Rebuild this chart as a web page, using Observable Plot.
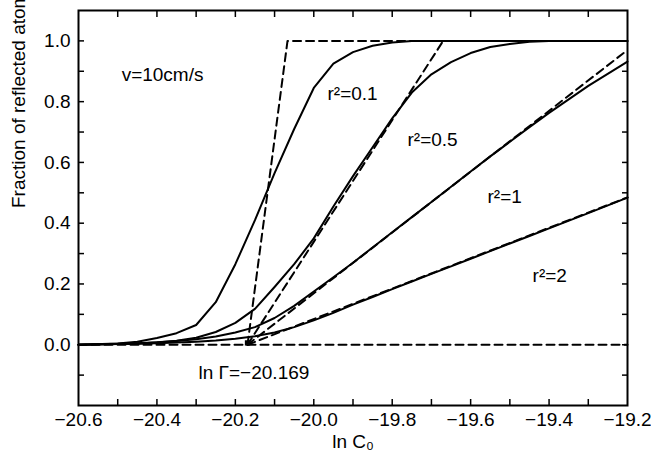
<!DOCTYPE html>
<html><head><meta charset="utf-8">
<script src="https://cdn.jsdelivr.net/npm/d3@7"></script>
<script src="https://cdn.jsdelivr.net/npm/@observablehq/plot@0.6"></script>
<style>
html,body{margin:0;padding:0;background:#fff;}
#chart svg{display:block;}
</style></head><body><div id="chart"></div>
<script>
// ln C0 sample positions
const lnC = [-20.6, -20.5, -20.45, -20.4, -20.35, -20.3, -20.25, -20.2, -20.15, -20.1, -20.05, -20.0,
  -19.95, -19.9, -19.85, -19.8, -19.75, -19.7, -19.65, -19.6, -19.55, -19.5, -19.45, -19.4, -19.3, -19.2];
// fraction of reflected atoms, solid curves
const frac01 = [0, 0.004, 0.01, 0.022, 0.038, 0.065, 0.14, 0.265, 0.41, 0.565, 0.71, 0.845,
  0.925, 0.963, 0.984, 0.995, 1.0, 1.0, 1.0, 1.0, 1.0, 1.0, 1.0, 1.0, 1.0, 1.0];
const frac05 = [0, 0.002, 0.004, 0.007, 0.013, 0.023, 0.042, 0.072, 0.118, 0.19, 0.265, 0.35,
  0.455, 0.555, 0.65, 0.745, 0.83, 0.89, 0.93, 0.96, 0.98, 0.99, 0.997, 1.0, 1.0, 1.0];
const frac1 = [0, 0.003, 0.005, 0.008, 0.012, 0.018, 0.027, 0.04, 0.058, 0.088, 0.128, 0.175,
  0.222, 0.27, 0.32, 0.37, 0.42, 0.47, 0.52, 0.57, 0.62, 0.668, 0.716, 0.763, 0.852, 0.932];
const frac2 = [0, 0.002, 0.003, 0.005, 0.007, 0.01, 0.014, 0.02, 0.028, 0.04, 0.058, 0.08,
  0.105, 0.132, 0.157, 0.183, 0.208, 0.233, 0.258, 0.283, 0.308, 0.333, 0.358, 0.383, 0.433, 0.484];
const seriesNames = ["0.1", "0.5", "1", "2"];

// dashed approximations (end points)
const lnGamma = -20.169;
const baseX = [-20.6, -19.2], baseY = [0, 0];
const approx01X = [-20.169, -20.067, -19.2], approx01Y = [0, 1, 1];
const approx05X = [-20.169, -19.67, -19.2], approx05Y = [0, 1, 1];
const approx1X = [-20.169, -19.2], approx1Y = [0, 0.97];
const approx2X = [-20.169, -19.2], approx2Y = [0, 0.485];

// annotations
const noteText = ["v=10cm/s", "r²=0.1", "r²=0.5", "r²=1", "r²=2", "ln Γ=−20.169"];
const noteX = [-20.49, -19.965, -19.761, -19.557, -19.442, -20.294];
const noteY = [0.888, 0.825, 0.673, 0.485, 0.228, -0.092];
const xTitle = "ln C₀";
const yTitle = "Fraction of reflected atoms";

// ticks
const xMajor = [-20.6, -20.4, -20.2, -20.0, -19.8, -19.6, -19.4, -19.2];
const xAll = [-20.5, -20.4, -20.3, -20.2, -20.1, -20.0, -19.9, -19.8, -19.7, -19.6, -19.5, -19.4, -19.3];
const yMajor = [0, 0.2, 0.4, 0.6, 0.8, 1.0];
const yAll = [-0.1, 0, 0.1, 0.2, 0.3, 0.4, 0.5, 0.6, 0.7, 0.8, 0.9, 1.0];

const solid = [];
[frac01, frac05, frac1, frac2].forEach((arr, k) => arr.forEach((v, i) => solid.push({x: lnC[i], y: v, r: seriesNames[k]})));
const dashed = [];
[[baseX, baseY, "base"], [approx01X, approx01Y, "0.1"], [approx05X, approx05Y, "0.5"], [approx1X, approx1Y, "1"], [approx2X, approx2Y, "2"]]
  .forEach(([xs, ys, r]) => xs.forEach((x, i) => dashed.push({x, y: ys[i], r})));
const notes = noteText.map((t, i) => ({t, x: noteX[i], y: noteY[i]}));
const fmt = d3.format(".1f");
const blank = () => "";
const tick = -6; // negative = inward

const chart = Plot.plot({
  width: 651,
  height: 460,
  marginLeft: 78,
  marginRight: 24,
  marginTop: 10,
  marginBottom: 55,
  style: {fontFamily: "'Liberation Sans', Arial, sans-serif", fontSize: "19px", background: "white", color: "black"},
  x: {domain: [-20.6, -19.2]},
  y: {domain: [-0.2, 1.1]},
  marks: [
    Plot.line(dashed, {x: "x", y: "y", z: "r", stroke: "black", strokeWidth: 2, strokeDasharray: "8,5"}),
    Plot.line(solid, {x: "x", y: "y", z: "r", stroke: "black", strokeWidth: 2}),
    Plot.dot([{x: lnGamma, y: 0.006}], {x: "x", y: "y", symbol: "square", r: 3, fill: "black"}),
    Plot.text(notes, {x: "x", y: "y", text: "t", textAnchor: "start", fill: "black"}),
    // tick-only axes (inward ticks on all four sides)
    Plot.axisX(xAll, {anchor: "bottom", tickSize: tick, stroke: "black", strokeWidth: 1.5, tickFormat: blank, label: null}),
    Plot.axisX(xAll, {anchor: "top", tickSize: tick, stroke: "black", strokeWidth: 1.5, tickFormat: blank, label: null}),
    Plot.axisY(yAll, {anchor: "left", tickSize: tick, stroke: "black", strokeWidth: 1.5, tickFormat: blank, label: null}),
    Plot.axisY(yAll, {anchor: "right", tickSize: tick, stroke: "black", strokeWidth: 1.5, tickFormat: blank, label: null}),
    // tick labels and axis titles
    Plot.text(xMajor, {x: d => d, text: d => fmt(d), frameAnchor: "bottom", lineAnchor: "top", dy: 7, fill: "black"}),
    Plot.text(yMajor, {y: d => d, text: d => fmt(d), frameAnchor: "left", textAnchor: "end", dx: -8, fill: "black"}),
    Plot.text([xTitle], {text: d => d, frameAnchor: "bottom", dy: 42, fill: "black"}),
    Plot.text([yTitle], {text: d => d, frameAnchor: "left", rotate: -90, dx: -60, fill: "black"}),
    Plot.frame({stroke: "black", strokeWidth: 2})
  ]
});
document.getElementById("chart").appendChild(chart);
</script>
</body></html>
